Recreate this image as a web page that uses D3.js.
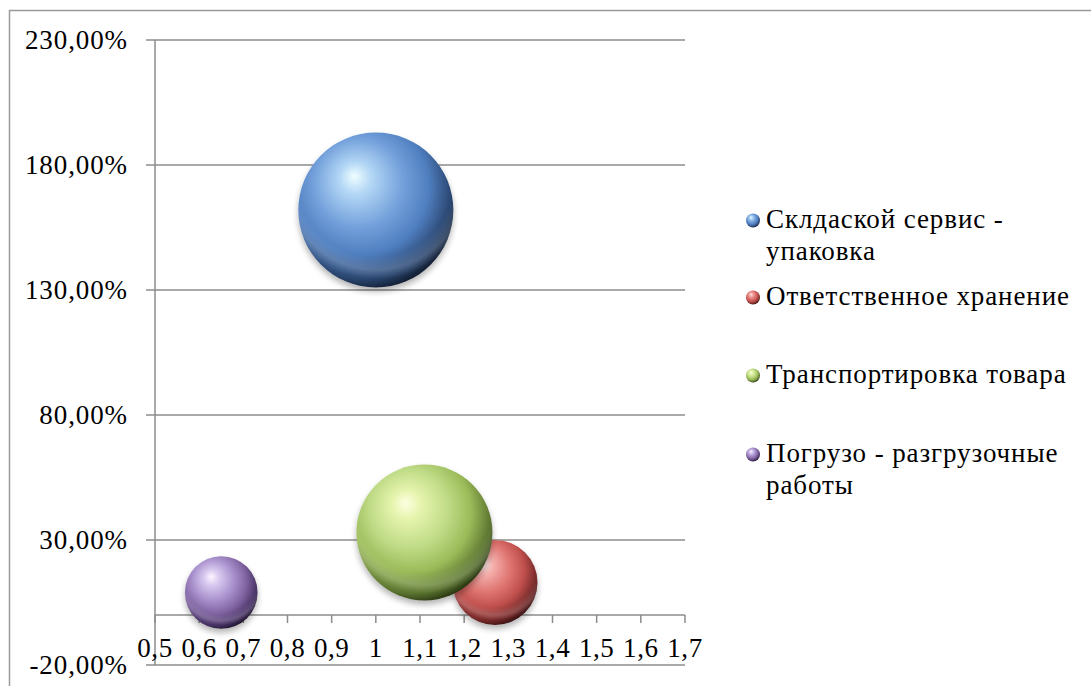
<!DOCTYPE html>
<html>
<head>
<meta charset="utf-8">
<script src="https://cdn.jsdelivr.net/npm/d3@7"></script>
<style>
  html, body { margin: 0; padding: 0; background: #fff; }
  svg { display: block; font-family: "Liberation Serif", "Times New Roman", serif; }
</style>
</head>
<body>
<svg id="chart" width="1091" height="686"></svg>
<script>
// Series: service categories with X coefficient, Y share and bubble size
const categories = [
  "Склдаской сервис - упаковка",
  "Ответственное хранение",
  "Транспортировка товара",
  "Погрузо - разгрузочные работы"
];
const legendLines = [
  ["Склдаской сервис -", "упаковка"],
  ["Ответственное хранение"],
  ["Транспортировка товара"],
  ["Погрузо - разгрузочные", "работы"]
];
const xValues = [1.0, 1.27, 1.11, 0.65];
const yValues = [1.62, 0.13, 0.33, 0.09];
const sizes = [100, 30, 77, 22];
const xTicks = [0.5, 0.6, 0.7, 0.8, 0.9, 1.0, 1.1, 1.2, 1.3, 1.4, 1.5, 1.6, 1.7];
const yTicks = [-0.2, 0.3, 0.8, 1.3, 1.8, 2.3];

// Sphere palette: highlight, light, base, mid, dark, rim
const palettes = [
  ["#effdff", "#b2d6f5", "#73a0db", "#4f7ebf", "#29446d", "#0b1422"],
  ["#fff0ee", "#f5b0ad", "#df7571", "#c0504d", "#742828", "#2a0c0c"],
  ["#ffffe2", "#e6f4ae", "#bfdb86", "#9bbb59", "#5a732f", "#1c270b"],
  ["#fdf6ff", "#d8c9f0", "#a890cc", "#8064a2", "#483364", "#150e22"]
];

const svg = d3.select("#chart");
const plot = { left: 155, right: 685, top: 40, bottom: 665 };

const x = d3.scaleLinear().domain([0.5, 1.7]).range([plot.left, plot.right]);
const y = d3.scaleLinear().domain([-0.2, 2.3]).range([plot.bottom, plot.top]);
const r = d3.scaleSqrt().domain([0, d3.max(sizes)]).range([0, 77.5]);

const fmtY = v => d3.format(".2f")(v * 100).replace(".", ",").replace("\u2212", "-") + "%";
const fmtX = v => d3.format("~g")(+v.toFixed(2)).replace(".", ",");

// Outer chart border
svg.append("rect")
  .attr("x", 9.5).attr("y", 10.5)
  .attr("width", 1100).attr("height", 700)
  .attr("fill", "none").attr("stroke", "#9a9a9a").attr("stroke-width", 1.5);

const defs = svg.append("defs");

palettes.forEach((p, i) => {
  const g = defs.append("radialGradient")
    .attr("id", "sphere" + i)
    .attr("cx", "42%").attr("cy", "38%").attr("r", "66%")
    .attr("fx", "36%").attr("fy", "28%");
  [[0, p[0]], [0.16, p[1]], [0.44, p[2]], [0.67, p[3]], [0.88, p[4]], [1, p[5]]]
    .forEach(([o, c]) => g.append("stop").attr("offset", o).attr("stop-color", c));
});

// Reflected light crescent along the lower rim
const rim = defs.append("radialGradient").attr("id", "rimGlow")
  .attr("cx", "50%").attr("cy", "30%").attr("r", "68%");
rim.append("stop").attr("offset", 0.74).attr("stop-color", "#fff").attr("stop-opacity", 0);
rim.append("stop").attr("offset", 0.86).attr("stop-color", "#fff").attr("stop-opacity", 0.16);
rim.append("stop").attr("offset", 0.95).attr("stop-color", "#fff").attr("stop-opacity", 0);

const shadow = defs.append("filter").attr("id", "shadow")
  .attr("x", "-30%").attr("y", "-30%").attr("width", "160%").attr("height", "170%");
shadow.append("feGaussianBlur").attr("in", "SourceAlpha").attr("stdDeviation", 3).attr("result", "b");
shadow.append("feOffset").attr("in", "b").attr("dy", 4).attr("result", "o");
shadow.append("feComponentTransfer").attr("in", "o").attr("result", "s")
  .append("feFuncA").attr("type", "linear").attr("slope", 0.3);
const merge = shadow.append("feMerge");
merge.append("feMergeNode").attr("in", "s");
merge.append("feMergeNode").attr("in", "SourceGraphic");

// Horizontal gridlines with outward tick stubs
const gridColor = "#8c8c8c";
svg.append("g").selectAll("line").data(yTicks).join("line")
  .attr("x1", plot.left - 9).attr("x2", plot.right)
  .attr("y1", d => y(d)).attr("y2", d => y(d))
  .attr("stroke", gridColor).attr("stroke-width", 1.5);

// Y axis line
svg.append("line")
  .attr("x1", plot.left).attr("x2", plot.left)
  .attr("y1", plot.top).attr("y2", plot.bottom)
  .attr("stroke", gridColor).attr("stroke-width", 1.5);

// X axis at zero with downward ticks
svg.append("line")
  .attr("x1", plot.left).attr("x2", plot.right)
  .attr("y1", y(0)).attr("y2", y(0))
  .attr("stroke", gridColor).attr("stroke-width", 1.5);
svg.append("g").selectAll("line").data(xTicks).join("line")
  .attr("x1", d => x(d)).attr("x2", d => x(d))
  .attr("y1", y(0)).attr("y2", y(0) + 8)
  .attr("stroke", gridColor).attr("stroke-width", 1.5);

// Y tick labels
svg.append("g").selectAll("text").data(yTicks).join("text")
  .attr("x", 128).attr("y", d => y(d) + 9)
  .attr("text-anchor", "end")
  .attr("font-size", 27).attr("letter-spacing", "0.9px").attr("fill", "#000")
  .text(fmtY);

// X tick labels
svg.append("g").selectAll("text").data(xTicks).join("text")
  .attr("x", d => x(d)).attr("y", y(0) + 42)
  .attr("text-anchor", "middle")
  .attr("font-size", 27).attr("letter-spacing", "0.6px").attr("fill", "#000")
  .text(fmtX);

// Bubbles
const bubbles = svg.append("g").selectAll("g").data(categories).join("g")
  .attr("transform", (d, i) => `translate(${x(xValues[i])},${y(yValues[i])})`);
bubbles.append("circle")
  .attr("r", (d, i) => r(sizes[i]))
  .attr("fill", (d, i) => `url(#sphere${i})`)
  .attr("filter", "url(#shadow)");
bubbles.append("circle")
  .attr("r", (d, i) => r(sizes[i]))
  .attr("fill", "url(#rimGlow)");

// Legend
const legend = svg.append("g");
const legendTop = [228, 305, 383, 462];
legendLines.forEach((lines, i) => {
  const g = legend.append("g").attr("transform", `translate(0,${legendTop[i]})`);
  g.append("circle").attr("cx", 753).attr("cy", -7.5).attr("r", 7)
    .attr("fill", `url(#sphere${i})`);
  lines.forEach((t, j) => {
    g.append("text")
      .attr("x", 766).attr("y", j * 32)
      .attr("font-size", 27).attr("letter-spacing", "0.9px").attr("fill", "#000")
      .text(t);
  });
});
</script>
</body>
</html>
